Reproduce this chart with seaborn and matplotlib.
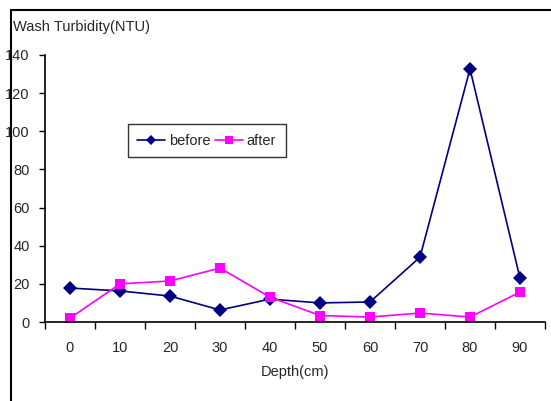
import matplotlib
matplotlib.use("Agg")
import matplotlib.pyplot as plt
from matplotlib.lines import Line2D
from matplotlib.ticker import FixedLocator
import seaborn as sns
import pandas as pd

depth = ["0", "10", "20", "30", "40", "50", "60", "70", "80", "90"]
before = [17.8, 16.3, 13.6, 6.3, 12.0, 10.0, 10.5, 34.0, 132.7, 23.0]
after = [2.0, 20.0, 21.5, 28.3, 13.0, 3.4, 2.6, 4.7, 2.6, 15.7]
yticks = [0, 20, 40, 60, 80, 100, 120, 140]

sns.set_style("white")
plt.rcParams['font.family'] = ['Liberation Sans', 'DejaVu Sans']

df = pd.DataFrame({
    "Depth": depth * 2,
    "value": before + after,
    "series": ["before"] * len(depth) + ["after"] * len(depth),
})

fig = plt.figure(figsize=(5.51, 4.01), dpi=100)
ax = fig.add_axes([45/551, 1 - 322/401, 500/551, 267/401])

sns.lineplot(data=df, x="Depth", y="value", hue="series", style="series",
             palette={"before": "#000080", "after": "#FF00FF"},
             markers={"before": "D", "after": "s"}, dashes=False,
             markersize=7, markeredgewidth=0, linewidth=1.2, ax=ax, sort=False)

fs = 10.5
ax.set_xlim(-0.5, 9.5)
ax.set_ylim(0, 140)
ax.set_yticks(yticks)
ax.set_yticklabels([str(v) for v in yticks], fontsize=fs)
ax.set_xticks(range(len(depth)))
ax.set_xticklabels(depth, fontsize=fs)
ax.xaxis.set_minor_locator(FixedLocator([i - 0.5 for i in range(len(depth) + 1)]))
ax.tick_params(axis='x', which='major', length=0, pad=14)
ax.tick_params(axis='x', which='minor', length=5, width=1, color='black', bottom=True, direction='out')
ax.tick_params(axis='y', which='major', length=4, width=1, color='black', left=True, direction='out', pad=7)

for s in ["top", "right"]:
    ax.spines[s].set_visible(False)
for s in ["left", "bottom"]:
    ax.spines[s].set_color("black")
    ax.spines[s].set_linewidth(1.2)

ax.set_xlabel("Depth(cm)", fontsize=fs, labelpad=7)
ax.set_ylabel("")
fig.text(13/551, 1 - 27/401, "Wash Turbidity(NTU)", fontsize=fs, ha="left", va="center")

leg = ax.legend(loc="upper left", bbox_to_anchor=(0.166, 0.74), ncol=2, frameon=True,
                fancybox=False, edgecolor="black", fontsize=fs, handlelength=1.9,
                columnspacing=0.35, handletextpad=0.25, borderpad=0.65, borderaxespad=0,
                markerscale=0.75, title=None)
leg.get_frame().set_linewidth(1.0)

fig.add_artist(Line2D([11/551, 11/551], [0, 1 - 10/401], color="black", linewidth=1.5, transform=fig.transFigure))
fig.add_artist(Line2D([11/551, 1], [1 - 10/401, 1 - 10/401], color="black", linewidth=1.5, transform=fig.transFigure))

fig.savefig("out.png", dpi=100)
